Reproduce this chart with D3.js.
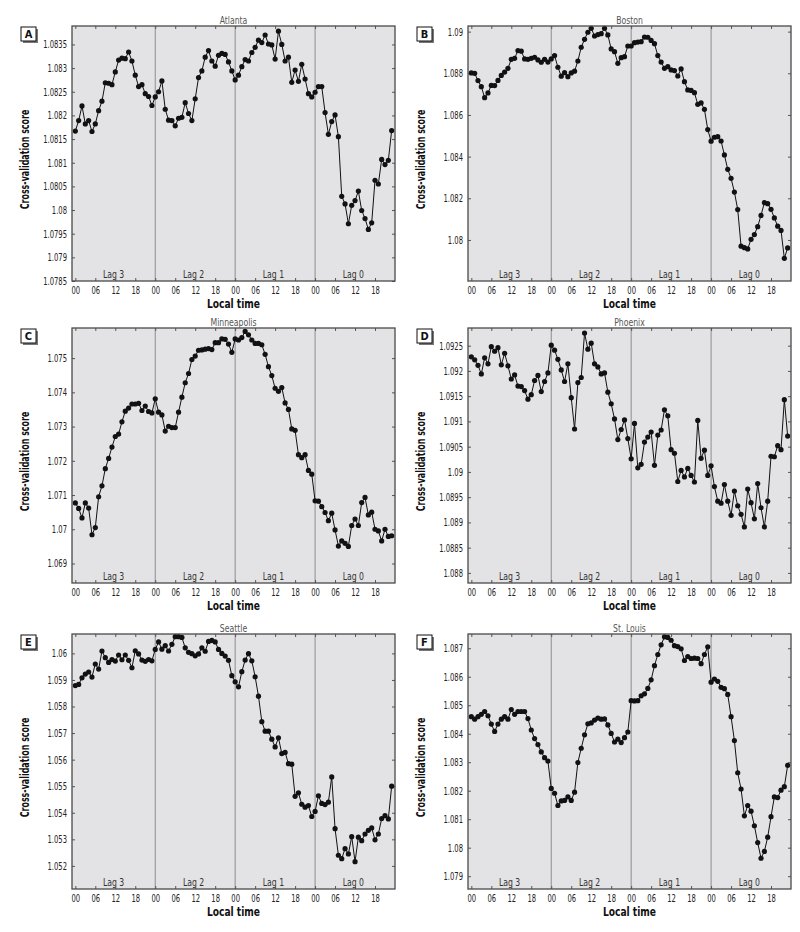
<!DOCTYPE html>
<html>

<head>
  <meta charset="utf-8">
  <title>Cross-validation score by local time</title>
  <style>
    body { margin: 0; background: #fff; }
    svg text { font-family: "Liberation Sans Narrow", "Arial Narrow", "DejaVu Sans Condensed", sans-serif; }
  </style>
</head>

<body>
  <svg id="svg"></svg>

  <script src="https://d3js.org/d3.v7.min.js"></script>

  <script>
    // labels
    const cities = ["Atlanta", "Boston", "Minneapolis", "Phoenix", "Seattle", "St. Louis"];
    const letters = ["A", "B", "C", "D", "E", "F"];
    const lagLabels = ["Lag 3", "Lag 2", "Lag 1", "Lag 0"];
    const hourLabels = ["00", "06", "12", "18"];

    // one value per hour, lag 3 -> lag 0 (96 values)
    const atlanta = [
      1.08167, 1.08189, 1.0822, 1.08182, 1.08189, 1.08166, 1.08182, 1.0821, 1.0823, 1.08269, 1.08268, 1.08265,
      1.08292, 1.08317, 1.08321, 1.0832, 1.08334, 1.08315, 1.08285, 1.08261, 1.08265, 1.08246, 1.0824, 1.08221,
      1.08239, 1.0825, 1.08273, 1.08213, 1.0819, 1.08189, 1.08178, 1.08194, 1.08196, 1.08227, 1.08204, 1.08189,
      1.08235, 1.0828, 1.08294, 1.08323, 1.08337, 1.08315, 1.08304, 1.08327, 1.08331, 1.08329, 1.08313, 1.08294,
      1.08275, 1.08285, 1.08303, 1.08318, 1.08315, 1.08333, 1.08344, 1.08359, 1.08354, 1.0837, 1.08351, 1.08349,
      1.08319, 1.08378, 1.0835, 1.08315, 1.08323, 1.0827, 1.08296, 1.08272, 1.08308, 1.08277, 1.08246, 1.08239,
      1.08249, 1.08261, 1.08261, 1.08206, 1.0816, 1.08187, 1.08201, 1.08155, 1.08029, 1.08013, 1.07971, 1.0801,
      1.0802, 1.0804, 1.07999, 1.07982, 1.07959, 1.07973, 1.08063, 1.08055, 1.08107, 1.08096, 1.08105, 1.08168
    ];
    const boston = [
      1.08802, 1.088, 1.08765, 1.08736, 1.08683, 1.08706, 1.08742, 1.08741, 1.08766, 1.0879, 1.08806, 1.08824,
      1.08867, 1.08872, 1.08909, 1.08906, 1.08869, 1.08867, 1.08872, 1.08877, 1.08864, 1.08853, 1.08867, 1.08854,
      1.08869, 1.08885, 1.08829, 1.08786, 1.08803, 1.08784, 1.08802, 1.0881, 1.08859, 1.08925, 1.08963, 1.08997,
      1.09016, 1.08979, 1.08986, 1.0899, 1.09016, 1.08984, 1.08917, 1.08904, 1.08848, 1.08875, 1.0888, 1.08931,
      1.08931, 1.08947, 1.0895, 1.08952, 1.08974, 1.08973, 1.08958, 1.08942, 1.08885, 1.08854, 1.08824, 1.08832,
      1.08816, 1.08813, 1.08787, 1.08821, 1.0876, 1.0872, 1.08718, 1.08707, 1.08651, 1.08658, 1.08627, 1.0853,
      1.08474, 1.08493, 1.08496, 1.08475, 1.08408, 1.08339, 1.08296, 1.0823, 1.08146, 1.0797, 1.07963, 1.07957,
      1.08003, 1.08026, 1.08064, 1.08118, 1.08179, 1.08174, 1.08147, 1.08106, 1.08066, 1.08046, 1.07912, 1.07962
    ];
    const minneapolis = [
      1.07077, 1.07061, 1.07033, 1.07077, 1.07062, 1.06984, 1.07005, 1.07095, 1.07127, 1.07177, 1.07207, 1.0724,
      1.07271, 1.07278, 1.07314, 1.07345, 1.07354, 1.07366, 1.07366, 1.07368, 1.07347, 1.0736, 1.07344, 1.0734,
      1.07381, 1.07342, 1.07334, 1.07287, 1.07301, 1.07297, 1.07297, 1.07342, 1.07386, 1.07428, 1.07455, 1.07496,
      1.07506, 1.07523, 1.07524, 1.07526, 1.07528, 1.07525, 1.07545, 1.07545, 1.07556, 1.07555, 1.07541, 1.07517,
      1.07556, 1.07553, 1.0756, 1.07578, 1.07568, 1.07553, 1.07543, 1.07543, 1.07539, 1.07511, 1.07475, 1.07449,
      1.07412, 1.07403, 1.07414, 1.07369, 1.0735, 1.07293, 1.07289, 1.07218, 1.07209, 1.07218, 1.07172, 1.07161,
      1.07083, 1.07082, 1.07066, 1.07049, 1.07025, 1.07047, 1.06998, 1.06951, 1.06966, 1.06959, 1.0695, 1.07011,
      1.0703, 1.07011, 1.07078, 1.07093, 1.07042, 1.0705, 1.07, 1.06995, 1.06966, 1.07, 1.06979, 1.06981
    ];
    const phoenix = [
      1.09228, 1.09222, 1.09211, 1.09194, 1.09226, 1.09214, 1.09248, 1.09239, 1.09246, 1.09212, 1.09235, 1.0921,
      1.09184, 1.09192, 1.0917, 1.09169, 1.09161, 1.09144, 1.09153, 1.09181, 1.09191, 1.09159, 1.09179, 1.09196,
      1.09251, 1.09241, 1.09223, 1.09202, 1.09179, 1.09214, 1.09147, 1.09085, 1.09177, 1.09187, 1.09275, 1.09243,
      1.09255, 1.09214, 1.09208, 1.09194, 1.09196, 1.09158, 1.09135, 1.09105, 1.09064, 1.09084, 1.09103, 1.09066,
      1.09026, 1.09096, 1.09008, 1.09015, 1.09059, 1.09069, 1.09079, 1.09013, 1.09073, 1.09083, 1.09123, 1.09111,
      1.09044, 1.09037, 1.08981, 1.09003, 1.0899, 1.09007, 1.08993, 1.0898, 1.09102, 1.09027, 1.09043, 1.08993,
      1.09012, 1.08971, 1.08942, 1.08938, 1.08975, 1.08942, 1.08914, 1.08962, 1.08933, 1.08916, 1.08891, 1.08966,
      1.08939, 1.08907, 1.08977, 1.08929, 1.08891, 1.08942, 1.09031, 1.0903, 1.09052, 1.09044, 1.09143, 1.09071
    ];
    const seattle = [
      1.05879, 1.05883, 1.05908, 1.05922, 1.0593, 1.05911, 1.0596, 1.05941, 1.06009, 1.05984, 1.05966, 1.05977,
      1.05971, 1.05994, 1.05976, 1.05994, 1.05974, 1.05946, 1.0601, 1.05998, 1.05975, 1.0597, 1.05977, 1.05972,
      1.06015, 1.06043, 1.06016, 1.06029, 1.06009, 1.06034, 1.06063, 1.06063, 1.0606, 1.06021, 1.06004, 1.05999,
      1.05991, 1.05998, 1.06021, 1.06008, 1.06045, 1.06049, 1.06043, 1.06015, 1.06, 1.0599, 1.05974, 1.05916,
      1.05893, 1.05874, 1.05931, 1.05975, 1.05999, 1.05972, 1.05912, 1.05839, 1.05743, 1.05707, 1.05707, 1.05677,
      1.05648, 1.05682, 1.05623, 1.05627, 1.05585, 1.05583, 1.05462, 1.05475, 1.05432, 1.05421, 1.05427, 1.05386,
      1.05405, 1.05464, 1.05435, 1.05431, 1.0544, 1.05535, 1.0534, 1.0524, 1.05227, 1.05265, 1.05245, 1.0531,
      1.05216, 1.05308, 1.05295, 1.0532, 1.05334, 1.05343, 1.05298, 1.0532, 1.05378, 1.05389, 1.05377, 1.055
    ];
    const stLouis = [
      1.0846, 1.08451, 1.0846, 1.08468, 1.08478, 1.08463, 1.08434, 1.08408, 1.08434, 1.08451, 1.0846, 1.08451,
      1.08485, 1.08468, 1.08478, 1.08478, 1.08478, 1.08453, 1.08413, 1.08383, 1.08362, 1.08336, 1.08316, 1.08304,
      1.08208, 1.08191, 1.08148, 1.08164, 1.08166, 1.08178, 1.08166, 1.08195, 1.08299, 1.08349, 1.08396, 1.08435,
      1.08438, 1.08448, 1.08455, 1.08451, 1.08452, 1.08431, 1.08401, 1.08371, 1.08381, 1.08369, 1.08386, 1.08406,
      1.08516, 1.08515, 1.08516, 1.08533, 1.0854, 1.08559, 1.08589, 1.08639, 1.08678, 1.08712, 1.0874, 1.08738,
      1.08728, 1.08709, 1.08706, 1.08698, 1.08657, 1.08671, 1.08664, 1.08665, 1.08664, 1.08646, 1.08678, 1.08705,
      1.08581, 1.08592, 1.08584, 1.08563, 1.08558, 1.08538, 1.0846, 1.08376, 1.08263, 1.08206, 1.08112, 1.08148,
      1.08128, 1.08077, 1.08018, 1.07963, 1.07987, 1.08037, 1.08109, 1.08178, 1.08176, 1.08202, 1.08214, 1.08289
    ];
    const series = [atlanta, boston, minneapolis, phoenix, seattle, stLouis];

    // y axis ranges and tick labels for each panel
    const yDomains = [
      [1.0785, 1.08389], [1.07803, 1.09027], [1.06843, 1.07588],
      [1.0878, 1.09285], [1.05113, 1.06073], [1.07855, 1.0875]
    ];
    const yTicks = [
      [1.0785, 1.079, 1.0795, 1.08, 1.0805, 1.081, 1.0815, 1.082, 1.0825, 1.083, 1.0835],
      [1.08, 1.082, 1.084, 1.086, 1.088, 1.09],
      [1.069, 1.07, 1.071, 1.072, 1.073, 1.074, 1.075],
      [1.088, 1.0885, 1.089, 1.0895, 1.09, 1.0905, 1.091, 1.0915, 1.092, 1.0925],
      [1.052, 1.053, 1.054, 1.055, 1.056, 1.057, 1.058, 1.059, 1.06],
      [1.079, 1.08, 1.081, 1.082, 1.083, 1.084, 1.085, 1.086, 1.087]
    ];

    const width = 800, height = 932;
    const plotW = 323, plotH = 255;
    const colLeft = [72, 468];
    const rowTop = [26, 328, 634];
    const inkColor = "#111";

    const svg = d3.select("#svg").attr("width", width).attr("height", height);

    const fmt = v => String(+v.toFixed(4));

    // squeeze text horizontally to mimic the condensed face of the original
    function condense(sel, k) {
      sel.each(function () {
        const w = this.getComputedTextLength();
        if (w > 0) d3.select(this).attr("textLength", w * k).attr("lengthAdjust", "spacingAndGlyphs");
      });
    }

    series.forEach((values, i) => {
      const x0 = colLeft[i % 2], y0 = rowTop[Math.floor(i / 2)];
      const g = svg.append("g").attr("transform", `translate(${x0},${y0})`);

      const x = d3.scaleLinear().domain([-1, 96]).range([0, plotW]);
      const y = d3.scaleLinear().domain(yDomains[i]).range([plotH, 0]);

      g.append("rect")
        .attr("width", plotW).attr("height", plotH)
        .attr("fill", "#e3e3e5");

      // lag dividers
      g.selectAll(".divider")
        .data([24, 48, 72])
        .join("line")
        .attr("x1", d => x(d)).attr("x2", d => x(d))
        .attr("y1", 0).attr("y2", plotH)
        .attr("stroke", "#8d8d8d").attr("stroke-width", 1);

      // lag labels
      g.selectAll(".lag")
        .data(lagLabels)
        .join("text")
        .attr("class", "lag")
        .attr("x", (d, k) => x(k * 24 + 11.5))
        .attr("y", plotH - 3)
        .attr("text-anchor", "middle")
        .attr("font-size", 11)
        .attr("fill", "#333")
        .text(d => d)
        .call(condense, 0.78);

      // axes with inward ticks
      const hourTicks = d3.range(0, 96, 6);
      g.append("g")
        .call(d3.axisLeft(y).tickValues(yTicks[i]).tickSize(-3).tickPadding(5).tickFormat(fmt));
      g.append("g").attr("transform", `translate(${plotW},0)`)
        .call(d3.axisRight(y).tickValues(yTicks[i]).tickSize(-3).tickFormat(""));
      g.append("g").attr("transform", `translate(0,${plotH})`)
        .call(d3.axisBottom(x).tickValues(hourTicks).tickSize(-3).tickPadding(6)
          .tickFormat(d => hourLabels[(d % 24) / 6]));
      g.append("g")
        .call(d3.axisTop(x).tickValues(hourTicks).tickSize(-3).tickFormat(""));

      g.selectAll(".domain").remove();
      g.selectAll(".tick line").attr("stroke", "#555");
      g.selectAll(".tick text").attr("font-size", 10.5).attr("fill", "#222")
        .attr("font-family", '"Liberation Sans Narrow", "Arial Narrow", "DejaVu Sans Condensed", sans-serif')
        .call(condense, 0.72);

      // series
      const line = d3.line().x((d, k) => x(k)).y(d => y(d));
      g.append("path")
        .datum(values)
        .attr("d", line)
        .attr("fill", "none")
        .attr("stroke", inkColor)
        .attr("stroke-width", 1);

      g.selectAll("circle")
        .data(values)
        .join("circle")
        .attr("cx", (d, k) => x(k))
        .attr("cy", d => y(d))
        .attr("r", 2.6)
        .attr("fill", inkColor);

      // frame
      g.append("rect")
        .attr("width", plotW).attr("height", plotH)
        .attr("fill", "none")
        .attr("stroke", "#4a4a4a").attr("stroke-width", 1.3);

      // city title
      g.append("text")
        .attr("x", plotW / 2).attr("y", -2)
        .attr("text-anchor", "middle")
        .attr("font-size", 11)
        .attr("fill", "#555")
        .text(cities[i])
        .call(condense, 0.78);

      // axis titles
      g.append("text")
        .attr("transform", `translate(-43,${plotH / 2 + 6}) rotate(-90)`)
        .attr("text-anchor", "middle")
        .attr("font-size", 13)
        .attr("font-weight", "bold")
        .attr("fill", "#111")
        .text("Cross-validation score")
        .call(condense, 0.68);

      g.append("text")
        .attr("x", plotW / 2).attr("y", plotH + 27)
        .attr("text-anchor", "middle")
        .attr("font-size", 13)
        .attr("font-weight", "bold")
        .attr("fill", "#111")
        .text("Local time")
        .call(condense, 0.78);

      // panel letter box
      const box = g.append("g").attr("transform", `translate(-51,1)`);
      box.append("rect")
        .attr("x", 2).attr("y", 2).attr("width", 15).attr("height", 14)
        .attr("fill", "#777");
      box.append("rect")
        .attr("width", 15).attr("height", 14)
        .attr("fill", "#fff").attr("stroke", "#111").attr("stroke-width", 1);
      box.append("text")
        .attr("x", 7.5).attr("y", 11)
        .attr("text-anchor", "middle")
        .attr("font-size", 11)
        .attr("font-weight", "bold")
        .attr("fill", "#111")
        .text(letters[i]);
    });
  </script>
</body>

</html>
